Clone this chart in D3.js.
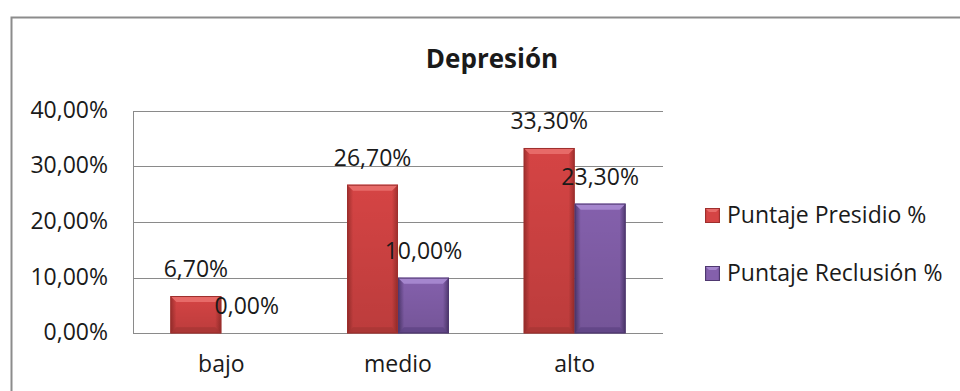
<!DOCTYPE html>
<html>
<head>
<meta charset="utf-8">
<script src="https://cdn.jsdelivr.net/npm/d3@7"></script>
<style>
  html, body { margin: 0; padding: 0; background: #fff; }
  svg { display: block; }
  text { font-family: "Open Sans", "Noto Sans", sans-serif; fill: #1a1a1a; }
</style>
</head>
<body>
<svg id="chart" width="960" height="391"></svg>
<script>
// ---- Data ----
const title = "Depresión";
const categories = ["bajo", "medio", "alto"];
const seriesNames = ["Puntaje Presidio %", "Puntaje Reclusión %"];
const presidio = [6.7, 26.7, 33.3];
const reclusion = [0.0, 10.0, 23.3];
const yTicks = [0, 10, 20, 30, 40];

// ---- Layout ----
const W = 960, H = 391;
const plot = { left: 133, right: 663, top: 110.7, bottom: 333.3 };
const fontSize = 23;

const svg = d3.select("#chart");
const locale = d3.formatLocale({ decimal: ",", thousands: ".", grouping: [3], currency: ["", "€"] });
const fmt = v => locale.format(".2f")(v) + "%";

// Outer border
svg.append("rect")
  .attr("x", 11.5).attr("y", 17.5)
  .attr("width", 1000).attr("height", 500)
  .attr("fill", "none").attr("stroke", "#8c8c8c").attr("stroke-width", 2);

// Scales
const x0 = d3.scaleBand().domain(categories).range([plot.left, plot.right])
  .paddingInner(0.423).paddingOuter(0.2115);
const x1 = d3.scaleBand().domain(seriesNames).range([0, x0.bandwidth()]);
const y = d3.scaleLinear().domain([0, 40]).range([plot.bottom, plot.top]);

// Gridlines
svg.append("g").selectAll("line").data(yTicks).join("line")
  .attr("x1", plot.left).attr("x2", plot.right)
  .attr("y1", d => Math.round(y(d)) + 0.5).attr("y2", d => Math.round(y(d)) + 0.5)
  .attr("stroke", "#8a8a8a").attr("stroke-width", 1);
// Vertical axis line
svg.append("line")
  .attr("x1", plot.left + 0.5).attr("x2", plot.left + 0.5)
  .attr("y1", Math.round(y(40)) + 0.5).attr("y2", Math.round(y(0)) + 0.5)
  .attr("stroke", "#8a8a8a").attr("stroke-width", 1);

// Y tick labels
svg.append("g").selectAll("text").data(yTicks).join("text")
  .attr("x", 108).attr("y", d => y(d) + 7)
  .attr("text-anchor", "end").attr("font-size", fontSize)
  .text(d => fmt(d));

// X labels
svg.append("g").selectAll("text").data(categories).join("text")
  .attr("x", d => x0(d) + x0.bandwidth() / 2).attr("y", 372)
  .attr("text-anchor", "middle").attr("font-size", fontSize)
  .text(d => d);

// Gradients for bars
const defs = svg.append("defs");
const palettes = [
  { edge: "#9e2f2d", mid: "#d54444", top: "#e76a68", bottom: "#a83634" },
  { edge: "#4f3870", mid: "#8460ac", top: "#a586ce", bottom: "#5f4484" }
];
palettes.forEach((p, i) => {
  const g = defs.append("linearGradient").attr("id", "bar" + i)
    .attr("x1", 0).attr("x2", 1).attr("y1", 0).attr("y2", 0);
  g.append("stop").attr("offset", "0%").attr("stop-color", p.edge);
  g.append("stop").attr("offset", "12%").attr("stop-color", p.mid);
  g.append("stop").attr("offset", "88%").attr("stop-color", p.mid);
  g.append("stop").attr("offset", "100%").attr("stop-color", p.edge);
  const v = defs.append("linearGradient").attr("id", "shade" + i)
    .attr("x1", 0).attr("x2", 0).attr("y1", 0).attr("y2", 1);
  v.append("stop").attr("offset", "0%").attr("stop-color", "#000").attr("stop-opacity", 0);
  v.append("stop").attr("offset", "100%").attr("stop-color", "#000").attr("stop-opacity", 0.12);
});

const data = categories.map((c, i) => ({ cat: c, vals: [presidio[i], reclusion[i]] }));
const groups = svg.append("g").selectAll("g").data(data).join("g")
  .attr("transform", d => `translate(${x0(d.cat)},0)`);

const bev = 6;
groups.each(function(d) {
  const g = d3.select(this);
  d.vals.forEach((v, i) => {
    const bx = x1(seriesNames[i]);
    const bw = x1.bandwidth();
    const top = y(v), bot = y(0);
    const h = bot - top;
    if (h <= 0.5) return;
    const p = palettes[i];
    g.append("rect").attr("x", bx).attr("y", top).attr("width", bw).attr("height", h)
      .attr("fill", `url(#bar${i})`);
    g.append("rect").attr("x", bx).attr("y", top).attr("width", bw).attr("height", h)
      .attr("fill", `url(#shade${i})`);
    const b = Math.min(bev, h / 2);
    g.append("path")
      .attr("d", `M${bx},${top}L${bx + bw},${top}L${bx + bw - b},${top + b}L${bx + b},${top + b}Z`)
      .attr("fill", p.top);
    g.append("path")
      .attr("d", `M${bx},${bot}L${bx + bw},${bot}L${bx + bw - b},${bot - b}L${bx + b},${bot - b}Z`)
      .attr("fill", p.bottom).attr("opacity", 0.8);
    g.append("rect").attr("x", bx + 0.5).attr("y", top + 0.5).attr("width", bw - 1).attr("height", h - 1)
      .attr("fill", "none").attr("stroke", p.edge).attr("stroke-width", 1);
  });
});

// Data labels
groups.each(function(d) {
  const g = d3.select(this);
  d.vals.forEach((v, i) => {
    const bx = x1(seriesNames[i]);
    g.append("text")
      .attr("x", bx + x1.bandwidth() / 2).attr("y", y(v) - 19)
      .attr("text-anchor", "middle").attr("font-size", fontSize)
      .text(fmt(v));
  });
});

// Title
svg.append("text").attr("x", 492).attr("y", 68)
  .attr("text-anchor", "middle").attr("font-size", 26).attr("font-weight", "bold")
  .text(title);

// Legend
const legend = svg.append("g").selectAll("g").data(seriesNames).join("g")
  .attr("transform", (d, i) => `translate(705,${208 + i * 58})`);
legend.append("rect").attr("width", 15).attr("height", 15)
  .attr("fill", (d, i) => `url(#bar${i})`);
legend.append("path")
  .attr("d", "M0,0L15,0L11,4L4,4Z")
  .attr("fill", (d, i) => palettes[i].top);
legend.append("rect").attr("x", 0.5).attr("y", 0.5).attr("width", 14).attr("height", 14)
  .attr("fill", "none").attr("stroke", (d, i) => palettes[i].edge);
legend.append("text").attr("x", 22).attr("y", 15)
  .attr("font-size", fontSize).text(d => d);
</script>
</body>
</html>
